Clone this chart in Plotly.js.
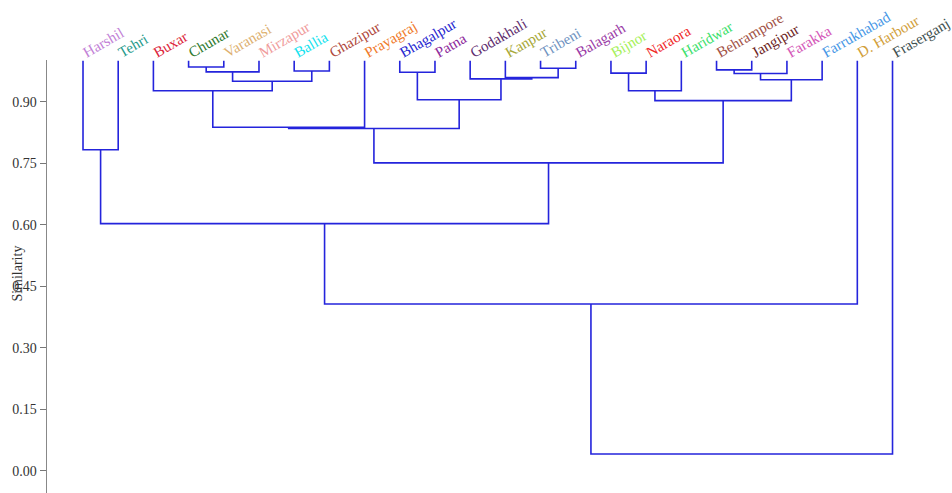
<!DOCTYPE html>
<html>
<head>
<meta charset="utf-8">
<script src="https://cdn.plot.ly/plotly-3.0.1.min.js"></script>
<style>
  html, body { margin: 0; padding: 0; background: #fff; }
  #plot { width: 952px; height: 493px; }
</style>
</head>
<body>
<div id="plot"></div>
<script>
// Sampling sites, in leaf order left to right
const leaves = ["Harshil", "Tehri", "Buxar", "Chunar", "Varanasi", "Mirzapur", "Ballia", "Ghazipur",
  "Prayagraj", "Bhagalpur", "Patna", "Godakhali", "Kanpur", "Tribeni", "Balagarh", "Bijnor",
  "Naraora", "Haridwar", "Behrampore", "Jangipur", "Farakka", "Farrukhabad", "D. Harbour", "Fraserganj"];

const leafColors = ["#c27fd6", "#1f9a8a", "#dc1f3c", "#2f7a2f", "#ddb070", "#f09c9c", "#11e2ee", "#b0483c",
  "#f07a2a", "#2626d0", "#8e2a9c", "#5e2c6e", "#a8a838", "#6f93bf", "#9a3aa6", "#a6f05a",
  "#f02a2a", "#3ae06a", "#a25246", "#6e1f1f", "#d457b8", "#4898e6", "#d2a03a", "#3e5050"];

// Leaf similarity (top of each leaf line)
const leafSimilarity = 1.0;

// Linkage: [node a, node b, similarity]; new nodes are numbered from leaves.length on
const merges = [
  [3, 4, 0.985],   // 24 Chunar + Varanasi
  [13, 14, 0.982], // 25 Tribeni + Balagarh
  [18, 19, 0.978], // 26 Behrampore + Jangipur
  [6, 7, 0.975],   // 27 Ballia + Ghazipur
  [24, 5, 0.973],  // 28 + Mirzapur
  [9, 10, 0.972],  // 29 Bhagalpur + Patna
  [15, 16, 0.970], // 30 Bijnor + Naraora
  [26, 20, 0.969], // 31 + Farakka
  [12, 25, 0.959], // 32 Kanpur + (Tribeni, Balagarh)
  [11, 32, 0.956], // 33 Godakhali + ...
  [31, 21, 0.954], // 34 + Farrukhabad
  [28, 27, 0.950], // 35
  [2, 35, 0.927],  // 36 Buxar + ...
  [30, 17, 0.927], // 37 + Haridwar
  [29, 33, 0.905], // 38
  [37, 34, 0.903], // 39
  [36, 8, 0.838],  // 40 + Prayagraj
  [40, 38, 0.835], // 41
  [0, 1, 0.783],   // 42 Harshil + Tehri
  [41, 39, 0.751], // 43
  [42, 43, 0.603], // 44
  [44, 22, 0.407], // 45 + D. Harbour
  [45, 23, 0.041]  // 46 + Fraserganj
];

const yTicks = [0, 0.15, 0.30, 0.45, 0.60, 0.75, 0.90];

// node positions
let nodeX = leaves.map((_, i) => i);
let nodeY = leaves.map(() => leafSimilarity);

let xs = [], ys = [];
merges.forEach(m => {
  const a = m[0], b = m[1], h = m[2];
  xs.push(nodeX[a], nodeX[a], nodeX[b], nodeX[b], null);
  ys.push(nodeY[a], h, h, nodeY[b], null);
  nodeX.push((nodeX[a] + nodeX[b]) / 2);
  nodeY.push(h);
});

const tree = {
  x: xs,
  y: ys,
  mode: 'lines',
  type: 'scatter',
  line: { color: '#2424dc', width: 1.6 },
  hoverinfo: 'skip',
  showlegend: false
};

// coloured leaf names as tick labels along the top
const leafTicks = leaves.map((name, i) => '<span style="color:' + leafColors[i] + '">' + name + '</span>');

const layout = {
  width: 952,
  height: 493,
  margin: { l: 47, r: 0, t: 60, b: 0 },
  paper_bgcolor: '#fff',
  plot_bgcolor: '#fff',
  showlegend: false,
  xaxis: {
    range: [-1.023, 24.69],
    side: 'top',
    tickmode: 'array',
    tickvals: leaves.map((_, i) => i),
    ticktext: leafTicks,
    tickangle: -30,
    ticks: '',
    ticklabelstandoff: -3,
    ticklabeloverflow: 'allow',
    showline: false,
    showgrid: false,
    zeroline: false,
    automargin: false,
    tickfont: { family: 'Liberation Serif, Times New Roman, serif', size: 15, color: '#333' }
  },
  yaxis: {
    range: [-0.054, 1.002],
    tickvals: yTicks,
    tickformat: '.2f',
    ticks: 'outside',
    ticklen: 6,
    tickcolor: '#777',
    showline: true,
    linecolor: '#888',
    linewidth: 1.5,
    showgrid: false,
    zeroline: false,
    automargin: false,
    tickfont: { family: 'Liberation Serif, Times New Roman, serif', size: 14, color: '#333' }
  },
  annotations: [{
    x: -0.033,
    y: 0.507,
    xref: 'paper',
    yref: 'paper',
    text: 'Similarity',
    showarrow: false,
    textangle: -90,
    xanchor: 'center',
    yanchor: 'middle',
    font: { family: 'Liberation Serif, Times New Roman, serif', size: 14, color: '#333' }
  }]
};

Plotly.newPlot('plot', [tree], layout, { displayModeBar: false, staticPlot: true });
</script>
</body>
</html>
